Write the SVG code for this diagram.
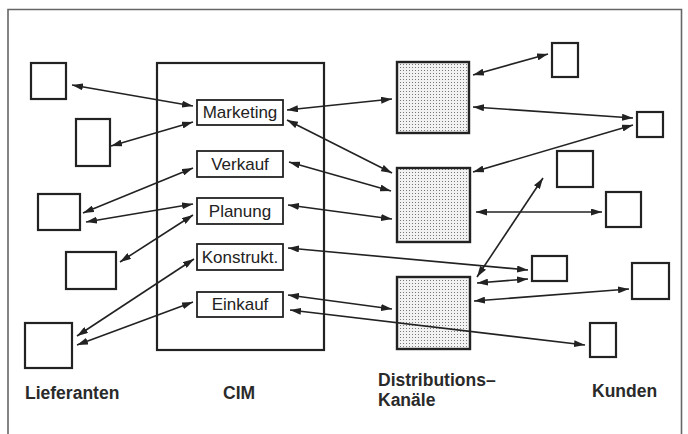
<svg xmlns="http://www.w3.org/2000/svg" width="688" height="434" viewBox="0 0 688 434">
<style>
.box{fill:#fff;stroke:#222;stroke-width:2.2}
.fn{fill:#fff;stroke:#222;stroke-width:1.8}
.dist{fill:url(#dots);stroke:#222;stroke-width:2.4}
.c{stroke:#222;stroke-width:1.6;fill:none;marker-start:url(#ah);marker-end:url(#ah)}
.lbl{font-family:"Liberation Sans",Arial,sans-serif;font-size:17px;fill:#222;text-anchor:middle}
.cap{font-family:"Liberation Sans",Arial,sans-serif;font-size:17.5px;font-weight:bold;fill:#2a2a2a}
</style>
<defs>
<pattern id="dots" width="3" height="3" patternUnits="userSpaceOnUse">
<rect width="3" height="3" fill="#f2f2f2"/>
<rect x="1" y="1" width="1" height="1" fill="#777"/>
</pattern>
<marker id="ah" markerWidth="11" markerHeight="7" refX="11" refY="3.5" orient="auto-start-reverse" markerUnits="userSpaceOnUse">
<path d="M0,0 L11,3.5 L0,7 z" fill="#222"/>
</marker>
</defs>
<rect width="688" height="434" fill="#fff"/>
<path d="M8,434 V9.5 H681.5 V434" fill="none" stroke="#666" stroke-width="1.6"/>

<g id="lieferanten">
<rect id="l1" class="box" x="31" y="63" width="35" height="36"/>
<rect id="l2" class="box" x="76" y="119" width="34" height="47"/>
<rect id="l3" class="box" x="38" y="194" width="42" height="36"/>
<rect id="l4" class="box" x="66" y="252" width="50" height="37"/>
<rect id="l5" class="box" x="25" y="323" width="47" height="45"/>
</g>

<g id="cim">
<rect class="box" x="157" y="63" width="167" height="287" stroke-width="2.5"/>
</g>
<g id="marketing"><rect class="fn" x="197" y="100" width="86" height="25"/><text class="lbl" x="240" y="118">Marketing</text></g>
<g id="verkauf"><rect class="fn" x="197" y="151" width="86" height="26"/><text class="lbl" x="240" y="170">Verkauf</text></g>
<g id="planung"><rect class="fn" x="197" y="198" width="86" height="26"/><text class="lbl" x="240" y="217">Planung</text></g>
<g id="konstrukt"><rect class="fn" x="197" y="244" width="86" height="26"/><text class="lbl" x="240" y="263">Konstrukt.</text></g>
<g id="einkauf"><rect class="fn" x="197" y="292" width="86" height="25"/><text class="lbl" x="240" y="310">Einkauf</text></g>

<g id="distribution">
<rect id="d1" class="dist" x="397" y="62" width="72" height="71"/>
<rect id="d2" class="dist" x="397" y="168" width="73" height="74"/>
<rect id="d3" class="dist" x="397" y="277" width="73" height="72"/>
</g>

<g id="kunden">
<rect id="k1" class="box" x="552" y="43" width="26" height="34"/>
<rect id="k2" class="box" x="637" y="112" width="26" height="25"/>
<rect id="k3" class="box" x="557" y="151" width="36" height="36"/>
<rect id="k4" class="box" x="606" y="192" width="35" height="35"/>
<rect id="k5" class="box" x="532" y="256" width="35" height="25"/>
<rect id="k6" class="box" x="632" y="263" width="37" height="36"/>
<rect id="k7" class="box" x="590" y="323" width="26" height="34"/>
</g>

<g id="connectors">
<line class="c" x1="72" y1="85" x2="193" y2="106"/>
<line class="c" x1="111" y1="146" x2="193" y2="122"/>
<line class="c" x1="83" y1="213" x2="193" y2="168"/>
<line class="c" x1="86" y1="222" x2="193" y2="204"/>
<line class="c" x1="120" y1="262" x2="193" y2="215"/>
<line class="c" x1="77" y1="336" x2="194" y2="259"/>
<line class="c" x1="77" y1="345" x2="193" y2="302"/>

<line class="c" x1="287" y1="110" x2="392" y2="99"/>
<line class="c" x1="287" y1="120" x2="392" y2="173"/>
<line class="c" x1="289" y1="162" x2="391" y2="191"/>
<line class="c" x1="288" y1="205" x2="392" y2="219"/>
<line class="c" x1="288" y1="248" x2="528" y2="270"/>
<line class="c" x1="288" y1="295" x2="392" y2="309"/>
<line class="c" x1="290" y1="310" x2="585" y2="345"/>

<line class="c" x1="473" y1="75" x2="548" y2="54"/>
<line class="c" x1="473" y1="107" x2="633" y2="118"/>
<line class="c" x1="473" y1="172" x2="633" y2="125"/>
<line class="c" x1="477" y1="277" x2="543" y2="178"/>
<line class="c" x1="476" y1="212" x2="602" y2="212"/>
<line class="c" x1="477" y1="283" x2="528" y2="279"/>
<line class="c" x1="474" y1="301" x2="629" y2="289"/>
</g>

<g id="labels">
<text class="cap" x="25" y="399">Lieferanten</text>
<text class="cap" x="223" y="399">CIM</text>
<text class="cap" x="378" y="386">Distributions–</text>
<text class="cap" x="378" y="406">Kanäle</text>
<text class="cap" x="592" y="397">Kunden</text>
</g>
</svg>
